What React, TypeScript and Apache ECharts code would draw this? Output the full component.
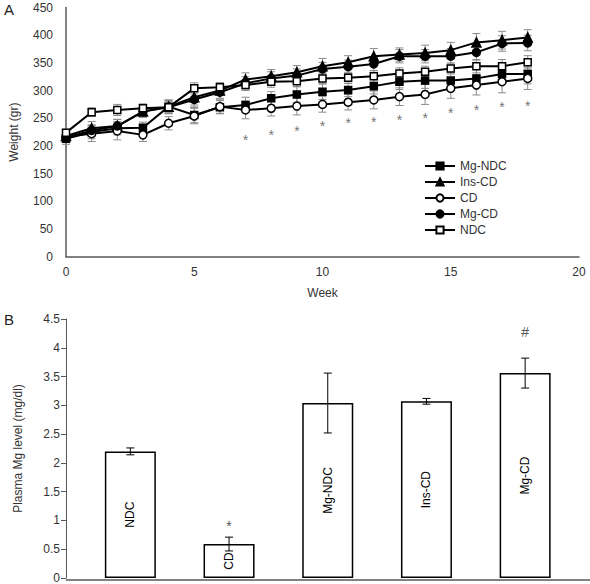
import React, { useEffect, useRef } from "react";
import * as echarts from "echarts";

// ---------- Panel A data ----------
const weeks = [0, 1, 2, 3, 4, 5, 6, 7, 8, 9, 10, 11, 12, 13, 14, 15, 16, 17, 18];
const mgNdc = [213, 225, 232, 233, 271, 256, 270, 274, 286, 293, 298, 301, 308, 316, 318, 318, 322, 330, 330];
const insCd = [218, 232, 236, 262, 271, 288, 300, 320, 326, 333, 344, 351, 362, 365, 368, 373, 387, 391, 396];
const cd = [217, 222, 227, 220, 241, 254, 271, 265, 268, 272, 275, 279, 283, 289, 293, 304, 310, 316, 322];
const mgCd = [215, 228, 236, 262, 270, 284, 297, 313, 322, 327, 339, 343, 348, 362, 362, 362, 369, 385, 386];
const ndc = [224, 261, 265, 268, 270, 304, 306, 310, 316, 317, 322, 323, 326, 331, 334, 340, 344, 344, 351];

const mgNdcErr = [10, 12, 12, 10, 12, 14, 12, 14, 12, 14, 14, 12, 14, 14, 14, 14, 16, 16, 18];
const insCdErr = [8, 12, 12, 10, 12, 14, 14, 12, 12, 12, 14, 12, 14, 12, 14, 14, 16, 16, 14];
const cdErr = [10, 14, 16, 12, 12, 14, 12, 16, 14, 16, 14, 14, 16, 16, 18, 18, 18, 20, 20];
const mgCdErr = [8, 10, 12, 10, 12, 14, 12, 12, 12, 12, 12, 12, 12, 12, 12, 14, 14, 14, 14];
const ndcErr = [6, 8, 10, 8, 10, 10, 8, 10, 10, 10, 10, 10, 10, 10, 10, 10, 12, 12, 12];

const starWeeks = [7, 8, 9, 10, 11, 12, 13, 14, 15, 16, 17, 18];
const starY = [217, 225, 232, 242, 246, 249, 253, 255, 265, 271, 275, 277];

const weightTicks = { min: 0, max: 450, interval: 50 };
const weekTicks = { min: 0, max: 20, interval: 5 };

// ---------- Panel B data ----------
const groups = ["NDC", "CD", "Mg-NDC", "Ins-CD", "Mg-CD"];
const plasmaMg = [2.2, 0.59, 3.04, 3.07, 3.56];
const plasmaMgErr = [0.06, 0.12, 0.52, 0.05, 0.26];
const markText = ["*", "#"];
const markGroup = [1, 4];
const markY = [0.9, 4.27];
const mgTicks = { min: 0, max: 4.5, interval: 0.5 };

const FONT = "Liberation Sans, Arial, sans-serif";
const TXT = "#333";
const AX = "#595959";

function errRender(color: string, cap: number) {
  return (params: any, api: any) => {
    const x = api.value(0);
    const lo = api.value(1);
    const hi = api.value(2);
    const a = api.coord([x, lo]);
    const b = api.coord([x, hi]);
    const st = { stroke: color, lineWidth: 1 };
    return {
      type: "group",
      children: [
        { type: "line", shape: { x1: a[0], y1: a[1], x2: b[0], y2: b[1] }, style: st },
        { type: "line", shape: { x1: a[0] - cap, y1: a[1], x2: a[0] + cap, y2: a[1] }, style: st },
        { type: "line", shape: { x1: b[0] - cap, y1: b[1], x2: b[0] + cap, y2: b[1] }, style: st },
      ],
    };
  };
}

export default function App() {
  const ref = useRef<HTMLDivElement>(null);
  useEffect(() => {
    document.body.style.margin = "0";
    const chart = echarts.init(ref.current!, null, { renderer: "svg" });

    const lines = [
      { name: "Mg-NDC", data: mgNdc, err: mgNdcErr, symbol: "rect", size: 7, fill: "#000" },
      { name: "Ins-CD", data: insCd, err: insCdErr, symbol: "triangle", size: 9, fill: "#000" },
      { name: "CD", data: cd, err: cdErr, symbol: "circle", size: 8, fill: "#fff" },
      { name: "Mg-CD", data: mgCd, err: mgCdErr, symbol: "circle", size: 8, fill: "#000" },
      { name: "NDC", data: ndc, err: ndcErr, symbol: "rect", size: 7, fill: "#fff" },
    ];

    const series: any[] = [];
    lines.forEach((l) => {
      series.push({
        type: "custom",
        xAxisIndex: 0,
        yAxisIndex: 0,
        renderItem: errRender("#8c8c8c", 4),
        data: weeks.map((w, i) => [w, l.data[i] - l.err[i], l.data[i] + l.err[i]]),
        encode: { x: 0, y: [1, 2] },
        z: 1,
        silent: true,
      });
    });
    lines.forEach((l) => {
      series.push({
        type: "line",
        name: l.name,
        xAxisIndex: 0,
        yAxisIndex: 0,
        data: weeks.map((w, i) => [w, l.data[i]]),
        symbol: l.symbol,
        symbolSize: l.size,
        showAllSymbol: true,
        lineStyle: { color: "#000", width: 2 },
        itemStyle: { color: l.fill, borderColor: "#000", borderWidth: 1.5 },
        z: 3,
      });
    });
    series.push({
      type: "scatter",
      xAxisIndex: 0,
      yAxisIndex: 0,
      symbolSize: 0,
      data: starWeeks.map((w, i) => [w, starY[i]]),
      label: {
        show: true,
        position: "inside",
        formatter: "*",
        fontSize: 14,
        color: "#505050",
        fontFamily: FONT,
        offset: [0, 3],
      },
      z: 4,
    });

    // Panel B
    series.push({
      type: "bar",
      xAxisIndex: 1,
      yAxisIndex: 1,
      data: plasmaMg,
      barWidth: 51,
      itemStyle: { color: "#fff", borderColor: "#000", borderWidth: 1.5 },
      label: {
        show: true,
        position: "inside",
        rotate: 90,
        formatter: (p: any) => groups[p.dataIndex],
        fontSize: 12,
        color: "#000",
        fontFamily: FONT,
      },
      z: 2,
    });
    series.push({
      type: "custom",
      xAxisIndex: 1,
      yAxisIndex: 1,
      renderItem: errRender("#000", 4),
      data: groups.map((g, i) => [i, plasmaMg[i] - plasmaMgErr[i], plasmaMg[i] + plasmaMgErr[i]]),
      encode: { x: 0, y: [1, 2] },
      z: 5,
      silent: true,
    });
    series.push({
      type: "scatter",
      xAxisIndex: 1,
      yAxisIndex: 1,
      symbolSize: 0,
      data: markGroup.map((g, i) => ({ value: [g, markY[i]], name: markText[i] })),
      label: {
        show: true,
        position: "inside",
        formatter: (p: any) => p.name,
        fontSize: 14,
        color: "#222",
        fontFamily: FONT,
      },
      z: 6,
    });

    chart.setOption({
      animation: false,
      textStyle: { fontFamily: FONT },
      grid: [
        { left: 66, top: 7.5, width: 513, height: 249.2 },
        { left: 81, top: 319, width: 493.5, height: 261 },
      ],
      legend: {
        orient: "vertical",
        left: 419,
        top: 155,
        itemWidth: 30,
        itemHeight: 9,
        itemGap: 4,
        data: lines.map((l) => l.name),
        textStyle: { fontSize: 12, color: TXT, fontFamily: FONT },
      },
      xAxis: [
        {
          type: "value",
          gridIndex: 0,
          ...weekTicks,
          name: "Week",
          nameLocation: "middle",
          nameGap: 30,
          nameTextStyle: { fontSize: 12, color: TXT, fontFamily: FONT },
          axisLine: { show: true, lineStyle: { color: AX, width: 1.5 } },
          axisTick: { show: false },
          splitLine: { show: false },
          axisLabel: { fontSize: 12, color: TXT, margin: 9, fontFamily: FONT },
        },
        {
          type: "category",
          gridIndex: 1,
          data: groups,
          axisLine: { show: false },
          axisTick: { show: false },
          axisLabel: { show: false },
        },
      ],
      yAxis: [
        {
          type: "value",
          gridIndex: 0,
          ...weightTicks,
          name: "Weight (gr)",
          nameLocation: "middle",
          nameGap: 46,
          nameTextStyle: { fontSize: 12, color: TXT, fontFamily: FONT },
          axisLine: { show: true, lineStyle: { color: AX, width: 1.5 } },
          axisTick: { show: false },
          splitLine: { show: false },
          axisLabel: { fontSize: 12, color: TXT, margin: 13, fontFamily: FONT },
        },
        {
          type: "value",
          gridIndex: 1,
          ...mgTicks,
          offset: 15,
          name: "Plasma Mg level (mg/dl)",
          nameLocation: "middle",
          nameGap: 42,
          nameTextStyle: { fontSize: 12, color: TXT, fontFamily: FONT },
          axisLine: { show: true, lineStyle: { color: AX, width: 1 } },
          axisTick: { show: true, length: 5, lineStyle: { color: AX } },
          splitLine: { show: false },
          axisLabel: { fontSize: 12, color: TXT, margin: 6, fontFamily: FONT },
        },
      ],
      graphic: [
        { type: "text", left: 4, top: 2, style: { text: "A", fontSize: 15, fill: "#222", fontFamily: FONT } },
        { type: "text", left: 4, top: 312, style: { text: "B", fontSize: 15, fill: "#222", fontFamily: FONT } },
        { type: "line", shape: { x1: 66, y1: 580, x2: 590, y2: 580 }, style: { stroke: AX, lineWidth: 1.5 } },
      ],
      series,
    });
    return () => chart.dispose();
  }, []);
  return <div ref={ref} style={{ width: 590, height: 584 }} />;
}
